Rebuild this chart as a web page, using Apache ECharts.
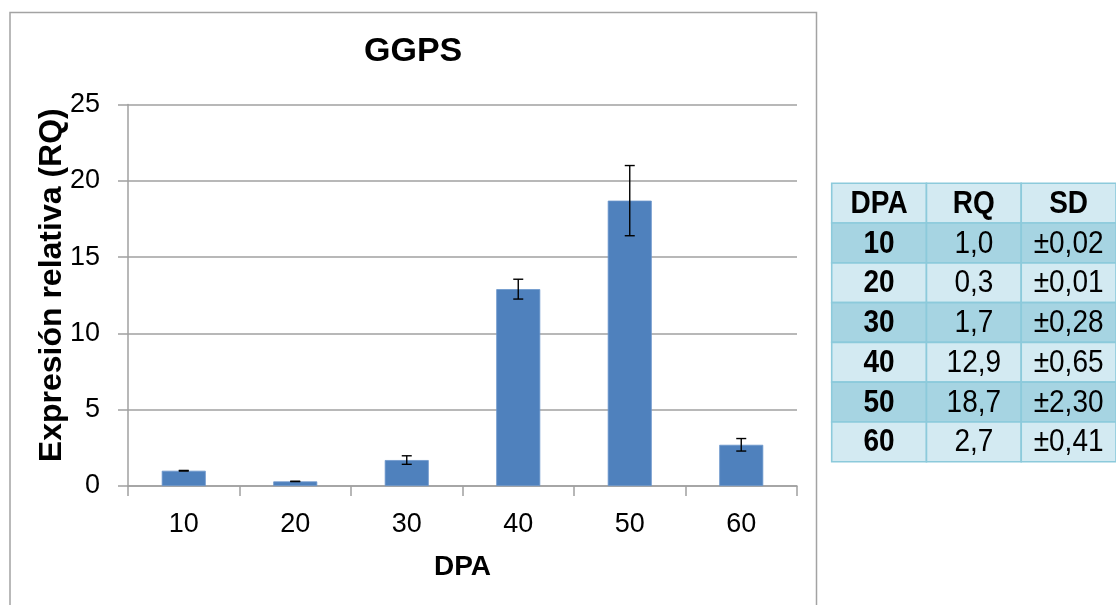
<!DOCTYPE html>
<html>
<head>
<meta charset="utf-8">
<script src="https://cdn.jsdelivr.net/npm/echarts@6/dist/echarts.min.js"></script>
<style>
html,body{margin:0;padding:0;background:#fff;}
#chart{width:1116px;height:605px;}
</style>
</head>
<body>
<div id="chart"></div>
<script>
// ---- data ----
const categories = ['10', '20', '30', '40', '50', '60'];
const rqValues = [1.0, 0.3, 1.7, 12.9, 18.7, 2.7];
const sdValues = [0.02, 0.01, 0.28, 0.65, 2.30, 0.41];
const yTicks = [0, 5, 10, 15, 20, 25];
const tableHeader = ['DPA', 'RQ', 'SD'];
const rqLabels = ['1,0', '0,3', '1,7', '12,9', '18,7', '2,7'];
const sdLabels = ['±0,02', '±0,01', '±0,28', '±0,65', '±2,30', '±0,41'];

// ---- derived ----
const FONT = '"Liberation Sans", Arial, sans-serif';
const tableRows = [tableHeader].concat(categories.map((c, i) => [c, rqLabels[i], sdLabels[i]]));
const tableCells = [];
tableRows.forEach((row, r) => row.forEach((_, c) => tableCells.push([c, r])));
const errData = categories.map((c, i) => [i, rqValues[i], sdValues[i]]);

const chart = echarts.init(document.getElementById('chart'), null, {renderer: 'canvas'});
const option = {
  backgroundColor: '#ffffff',
  animation: false,
  graphic: [{
    type: 'rect', z: -10, silent: true,
    shape: {x: 10, y: 12.5, width: 806.5, height: 700},
    style: {fill: 'none', stroke: '#a3a3a3', lineWidth: 1.5}
  }],
  title: {
    text: 'GGPS', left: 364, top: 35, padding: 0,
    textStyle: {fontFamily: FONT, fontSize: 34, fontWeight: 'bold', color: '#000'}
  },
  grid: [
    {left: 128, top: 104.5, width: 669, height: 381.5, containLabel: false},
    {left: 831.7, top: 183.3, width: 290.4, height: 278.4, containLabel: false}
  ],
  xAxis: [{
    type: 'category', gridIndex: 0, data: categories,
    name: 'DPA', nameLocation: 'middle', nameGap: 67, nameMoveOverlap: false,
    nameTextStyle: {fontFamily: FONT, fontSize: 28, fontWeight: 'bold', color: '#000'},
    axisLine: {lineStyle: {color: '#a0a0a0', width: 1.5}},
    axisTick: {show: true, length: 10, lineStyle: {color: '#a0a0a0', width: 1.5}},
    axisLabel: {fontFamily: FONT, fontSize: 27, color: '#000', margin: 25}
  }, {
    type: 'category', gridIndex: 1, data: tableHeader, show: false
  }],
  yAxis: [{
    type: 'value', gridIndex: 0, min: 0, max: 25, interval: 5,
    name: 'Expresión relativa (RQ)', nameLocation: 'middle', nameGap: 60, nameMoveOverlap: false,
    nameTextStyle: {fontFamily: FONT, fontSize: 32, fontWeight: 'bold', color: '#000',
      padding: [0, 0, 0, 20]},
    axisLine: {show: true, lineStyle: {color: '#a0a0a0', width: 1.5}},
    axisTick: {show: true, length: 10, lineStyle: {color: '#a0a0a0', width: 1.5}},
    splitLine: {show: true, lineStyle: {color: '#a0a0a0', width: 1.5}},
    axisLabel: {fontFamily: FONT, fontSize: 27, color: '#000', margin: 28,
      customValues: yTicks}
  }, {
    type: 'category', gridIndex: 1, inverse: true,
    data: tableRows.map((r, i) => String(i)), show: false
  }],
  series: [{
    type: 'bar', xAxisIndex: 0, yAxisIndex: 0,
    data: rqValues, barWidth: 44,
    itemStyle: {color: '#4f81bd', borderColor: '#6b96cc', borderWidth: 0.8}
  }, {
    type: 'custom', xAxisIndex: 0, yAxisIndex: 0, z: 5,
    data: errData, encode: {x: 0, y: 1},
    renderItem: function (params, api) {
      const i = api.value(0), v = api.value(1), e = api.value(2);
      const top = api.coord([i, v + e]);
      const bot = api.coord([i, v - e]);
      const hw = 5;
      const st = {stroke: '#000', lineWidth: 1.4};
      return {type: 'group', children: [
        {type: 'line', shape: {x1: top[0], y1: top[1], x2: bot[0], y2: bot[1]}, style: st},
        {type: 'line', shape: {x1: top[0] - hw, y1: top[1], x2: top[0] + hw, y2: top[1]}, style: st},
        {type: 'line', shape: {x1: bot[0] - hw, y1: bot[1], x2: bot[0] + hw, y2: bot[1]}, style: st}
      ]};
    }
  }, {
    type: 'custom', xAxisIndex: 1, yAxisIndex: 1,
    data: tableCells, encode: {x: 0, y: 1},
    renderItem: function (params, api) {
      const c = api.value(0), r = api.value(1);
      const p = api.coord([c, r]);
      const s = api.size([1, 1]);
      const dark = (r % 2 === 1);
      const bold = (r === 0 || c === 0);
      return {type: 'group', children: [
        {type: 'rect', shape: {x: p[0] - s[0] / 2, y: p[1] - s[1] / 2, width: s[0], height: s[1]},
          style: {fill: dark ? '#a6d4e2' : '#d3eaf2', stroke: '#8ccadb', lineWidth: 1.6}},
        {type: 'text', x: p[0], y: p[1] + 1, scaleY: 1.12, z2: 10,
          style: {text: tableRows[r][c], x: 0, y: 0, align: 'center', verticalAlign: 'middle',
            fontFamily: FONT, fontSize: 28, fontWeight: bold ? 'bold' : 'normal', fill: '#000'}}
      ]};
    }
  }]
};
chart.setOption(option);
</script>
</body>
</html>
